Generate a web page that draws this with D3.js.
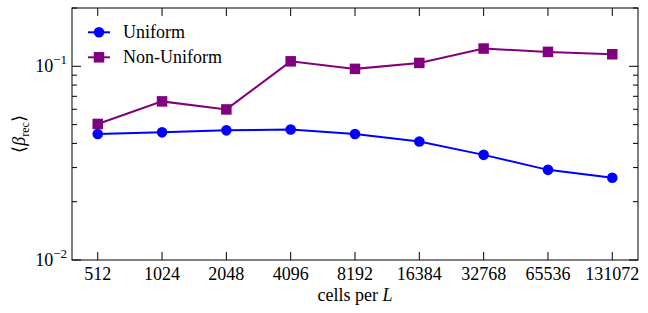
<!DOCTYPE html>
<html>
<head>
<meta charset="utf-8">
<script src="https://cdn.jsdelivr.net/npm/d3@7"></script>
<style>
  body { margin: 0; background: #fff; }
</style>
</head>
<body>
<div id="chart"></div>
<script>
const cells = [512, 1024, 2048, 4096, 8192, 16384, 32768, 65536, 131072];
const uniform = [0.0447, 0.0456, 0.0467, 0.0472, 0.0447, 0.0409, 0.0349, 0.0292, 0.0266];
const nonUniform = [0.0504, 0.0659, 0.0599, 0.1061, 0.0970, 0.1041, 0.1235, 0.1187, 0.1154];
const yMajor = [0.01, 0.1];
const yMajorLabels = ["\u22122", "\u22121"];
const yMinor = [0.02, 0.03, 0.04, 0.05, 0.06, 0.07, 0.08, 0.09, 0.2];

const width = 648;
const height = 313;
const margin = { top: 8, right: 10, bottom: 53, left: 72 };
const font = "'Liberation Serif', 'Times New Roman', serif";

const x = d3.scaleLog().base(2)
  .domain([Math.pow(2, 8.6), Math.pow(2, 17.4)])
  .range([margin.left, width - margin.right]);

const y = d3.scaleLog()
  .domain([0.01, 0.2])
  .range([height - margin.bottom, margin.top]);

const svg = d3.select("#chart").append("svg")
  .attr("width", width)
  .attr("height", height)
  .style("font-family", font);

const x0 = margin.left, x1 = width - margin.right;
const y0 = height - margin.bottom, y1 = margin.top;

// ticks (inward, on all four sides)
const ticks = svg.append("g").attr("stroke", "#000").attr("stroke-width", 1);
cells.forEach(c => {
  ticks.append("line").attr("x1", x(c)).attr("x2", x(c)).attr("y1", y0).attr("y2", y0 - 8);
  ticks.append("line").attr("x1", x(c)).attr("x2", x(c)).attr("y1", y1).attr("y2", y1 + 8);
});
yMajor.forEach(v => {
  ticks.append("line").attr("x1", x0).attr("x2", x0 + 9).attr("y1", y(v)).attr("y2", y(v));
  ticks.append("line").attr("x1", x1).attr("x2", x1 - 9).attr("y1", y(v)).attr("y2", y(v));
});
yMinor.forEach(v => {
  ticks.append("line").attr("x1", x0).attr("x2", x0 + 5).attr("y1", y(v)).attr("y2", y(v));
  ticks.append("line").attr("x1", x1).attr("x2", x1 - 5).attr("y1", y(v)).attr("y2", y(v));
});

// x tick labels
svg.append("g").selectAll("text")
  .data(cells)
  .join("text")
  .attr("x", d => x(d))
  .attr("y", y0 + 20)
  .attr("text-anchor", "middle")
  .style("font-family", font)
  .style("font-size", "18px")
  .text(d => d);

// y tick labels 10^n
yMajor.forEach((v, i) => {
  const t = svg.append("text")
    .attr("x", x0 - 5)
    .attr("y", y(v) + 6)
    .attr("text-anchor", "end")
    .style("font-family", font)
    .style("font-size", "18px");
  t.append("tspan").text("10");
  t.append("tspan").style("font-size", "13px").attr("dy", -8).text(yMajorLabels[i]);
});

// lines
const line = d3.line()
  .x((d, i) => x(cells[i]))
  .y(d => y(d));

svg.append("path")
  .attr("d", line(uniform))
  .attr("fill", "none")
  .attr("stroke", "#0000ff")
  .attr("stroke-width", 2);

svg.append("path")
  .attr("d", line(nonUniform))
  .attr("fill", "none")
  .attr("stroke", "#800080")
  .attr("stroke-width", 2);

svg.append("g").selectAll("circle")
  .data(uniform)
  .join("circle")
  .attr("cx", (d, i) => x(cells[i]))
  .attr("cy", d => y(d))
  .attr("r", 5.3)
  .attr("fill", "#0000ff");

const sq = 10.5;
svg.append("g").selectAll("rect")
  .data(nonUniform)
  .join("rect")
  .attr("x", (d, i) => x(cells[i]) - sq / 2)
  .attr("y", d => y(d) - sq / 2)
  .attr("width", sq)
  .attr("height", sq)
  .attr("fill", "#800080");

// frame
svg.append("rect")
  .attr("x", x0)
  .attr("y", y1)
  .attr("width", x1 - x0)
  .attr("height", y0 - y1)
  .attr("fill", "none")
  .attr("stroke", "#000")
  .attr("stroke-width", 1);

// legend
const legend = svg.append("g");
const legendRows = [
  { name: "Uniform", color: "#0000ff", shape: "circle", y: 32.3 },
  { name: "Non-Uniform", color: "#800080", shape: "square", y: 57.3 }
];
legendRows.forEach(r => {
  legend.append("line")
    .attr("x1", 88).attr("x2", 110)
    .attr("y1", r.y).attr("y2", r.y)
    .attr("stroke", r.color).attr("stroke-width", 2);
  if (r.shape === "circle") {
    legend.append("circle").attr("cx", 99).attr("cy", r.y).attr("r", 5.3).attr("fill", r.color);
  } else {
    legend.append("rect").attr("x", 99 - sq / 2).attr("y", r.y - sq / 2)
      .attr("width", sq).attr("height", sq).attr("fill", r.color);
  }
  legend.append("text")
    .attr("x", 123)
    .attr("y", r.y + 6)
    .style("font-family", font)
    .style("font-size", "18px")
    .text(r.name);
});

// axis labels
const xl = svg.append("text")
  .attr("x", (x0 + x1) / 2)
  .attr("y", 301)
  .attr("text-anchor", "middle")
  .style("font-family", font)
  .style("font-size", "18px");
xl.append("tspan").text("cells per ");
xl.append("tspan").style("font-style", "italic").text("L");

const yl = svg.append("text")
  .attr("transform", `translate(25,${(y0 + y1) / 2}) rotate(-90)`)
  .attr("text-anchor", "middle")
  .style("font-family", font)
  .style("font-size", "18px");
yl.append("tspan").text("\u27e8");
yl.append("tspan").style("font-style", "italic").text("\u03b2");
yl.append("tspan").style("font-size", "12px").attr("dy", 4).text("rec");
yl.append("tspan").attr("dy", -4).text("\u27e9");
</script>
</body>
</html>
